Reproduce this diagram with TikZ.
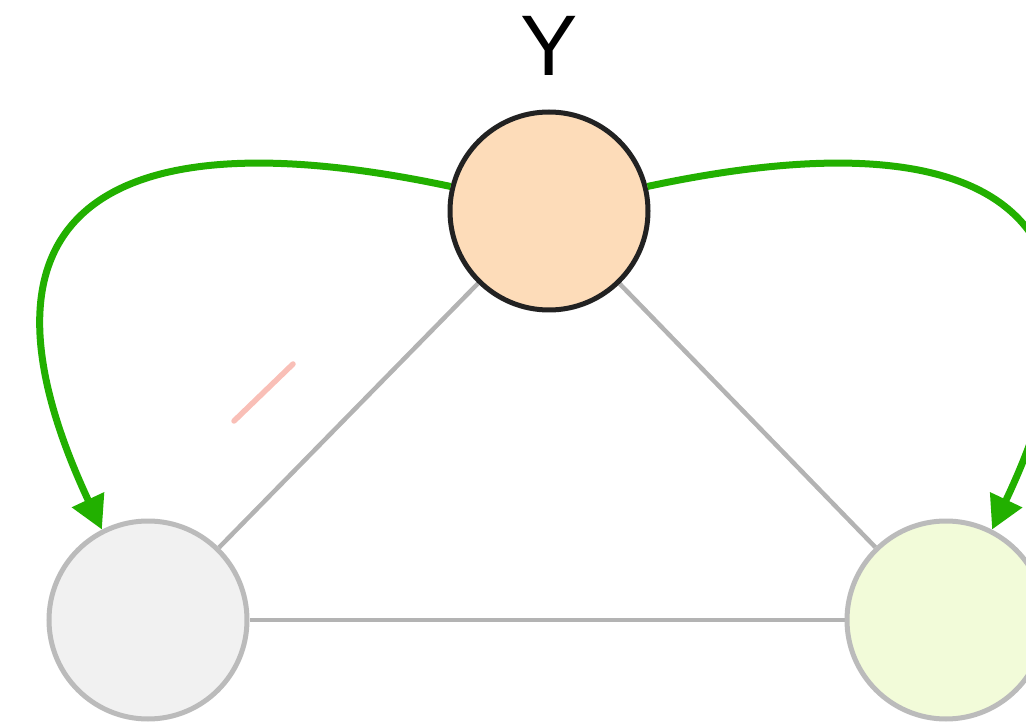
\documentclass[tikz,border=0pt]{standalone}
\usepackage{fontspec}
\setmainfont{Liberation Sans}
\usetikzlibrary{arrows.meta,backgrounds}
\definecolor{peach}{HTML}{FDDCB9}
\definecolor{darkstroke}{HTML}{222222}
\definecolor{lightgrayfill}{HTML}{F1F1F1}
\definecolor{grayedge}{HTML}{BBBBBB}
\definecolor{limefill}{HTML}{F2FBD9}
\definecolor{edgegray}{HTML}{B3B3B3}
\definecolor{arrowgreen}{HTML}{22B000}
\definecolor{pinkmark}{HTML}{F9BFB7}
\tikzset{
  vnode/.style={circle, minimum size=198pt, inner sep=0pt, line width=5pt},
  edge/.style={draw=edgegray, line width=4.5pt},
  greenarrow/.style={draw=arrowgreen, line width=7pt, -{Triangle[length=33pt,width=34pt]}},
}
\begin{document}
\begin{tikzpicture}[x=1pt,y=-1pt]
\useasboundingbox (0,0) rectangle (1026,727);
\clip (0,0) rectangle (1026,727);
\node[vnode, draw=darkstroke, fill=peach] (Y) at (549,211) {};
\node[vnode, draw=grayedge, fill=lightgrayfill] (L) at (148,620) {};
\node[vnode, draw=grayedge, fill=limefill] (R) at (946,620) {};
\node[font=\fontsize{86}{90}\selectfont, anchor=base, inner sep=0pt] (lab) at (549,76) {Y};
\begin{scope}[on background layer]
\draw[edge] (Y) -- (L);
\draw[edge] (Y) -- (R);
\draw[edge] (L) -- (R);
\end{scope}
\coordinate (p1) at (234,421);
\coordinate (p2) at (293,364);
\draw[pinkmark, line width=5.5pt, line cap=round] (p1) -- (p2);
\draw[greenarrow] (Y.166) .. controls (101,112) and (-45,215) .. (L.117);
\draw[greenarrow] (Y.14) .. controls (995,112) and (1141,215) .. (R.63);
\end{tikzpicture}
\end{document}
